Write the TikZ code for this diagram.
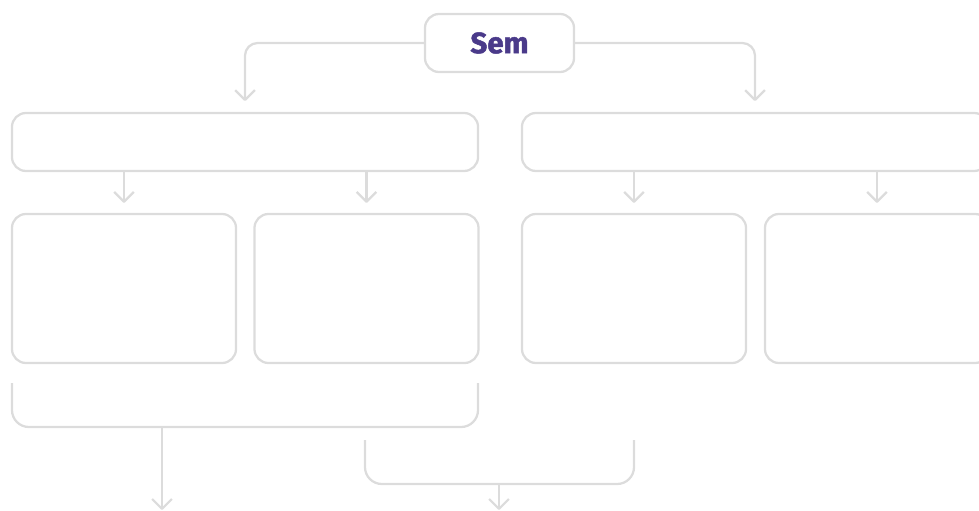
\documentclass[tikz,border=0pt]{standalone}
\usepackage{fontspec}
\newfontfamily\semfont{Fira Sans}[BoldFeatures={FakeBold=1.6}]
\usetikzlibrary{arrows.meta}
\definecolor{boxgray}{HTML}{DCDCDC}
\definecolor{sempurple}{HTML}{4A3A8A}
\tikzset{
  box/.style={draw=boxgray, line width=1.6pt, rounded corners=10pt, fill=white, inner sep=0pt},
  conn/.style={draw=boxgray, line width=1.6pt, rounded corners=9pt, line join=round},
  tip/.style={-{Straight Barb[length=7pt,width=14pt,line join=round]}}
}
\begin{document}
\begin{tikzpicture}[x=0.025cm,y=-0.025cm]
  \useasboundingbox (0,0) rectangle (979,511);

  % Top node
  \node[box, minimum width=3.725cm, minimum height=1.45cm,
        font=\semfont\bfseries\fontsize{21}{21}\selectfont, text=sempurple] (sem) at (499.5,43) {Sem};

  % Wide boxes
  \node[box, minimum width=11.65cm, minimum height=1.45cm] (wideL) at (245,142) {};
  \node[box, minimum width=11.65cm, minimum height=1.45cm] (wideR) at (755,142) {};

  % Small boxes
  \node[box, minimum width=5.6cm, minimum height=3.725cm] (smallA) at (124,288.5) {};
  \node[box, minimum width=5.6cm, minimum height=3.725cm] (smallB) at (366.5,288.5) {};
  \node[box, minimum width=5.6cm, minimum height=3.725cm] (smallC) at (634,288.5) {};
  \node[box, minimum width=5.6cm, minimum height=3.725cm] (smallD) at (877,288.5) {};

  % Sem to wide boxes
  \draw[conn,tip,shorten >=0.27cm] (sem.west) -| (wideL.north);
  \draw[conn,tip,shorten >=0.27cm] (sem.east) -| (wideR.north);

  % Wide boxes to small boxes
  \draw[conn,tip,shorten >=0.25cm] (wideL.south -| smallA.north) -- (smallA.north);
  \draw[conn,tip,shorten >=0.25cm] (wideL.south -| smallB.north) -- (smallB.north);
  \draw[conn,tip,shorten >=0.25cm] (wideR.south -| smallC.north) -- (smallC.north);
  \draw[conn,tip,shorten >=0.25cm] (wideR.south -| smallD.north) -- (smallD.north);

  % Lower brackets
  \coordinate (brA1) at (12,383);
  \coordinate (brA2) at (478,383);
  \coordinate (brB1) at (365,440);
  \coordinate (brB2) at (634,440);
  \coordinate (stemA) at (162,427);
  \coordinate (stemB) at (499,484);
  \coordinate (endA) at (162,510);
  \coordinate (endB) at (499,510);
  \draw[conn,rounded corners=12pt] (brA1) |- (stemA) -| (brA2);
  \draw[conn,rounded corners=12pt] (brB1) |- (stemB) -| (brB2);
  \draw[conn,tip] (stemA) -- (endA);
  \draw[conn,tip] (stemB) -- (endB);

\end{tikzpicture}
\end{document}
